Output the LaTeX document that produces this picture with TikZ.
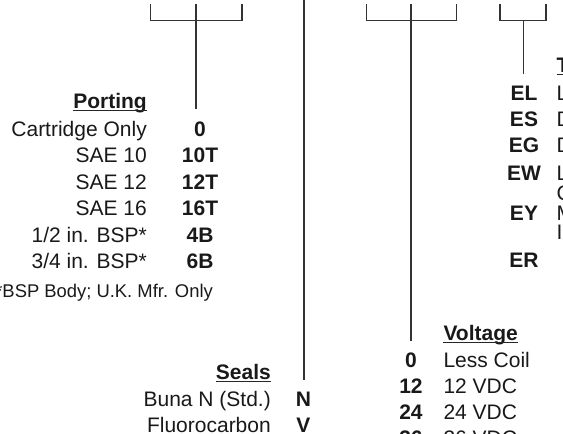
\documentclass[tikz,border=0pt]{standalone}
\usepackage{fontspec}
\setmainfont{Liberation Sans}
\usetikzlibrary{calc}
\begin{document}
\fontsize{21}{20}\selectfont
\begin{tikzpicture}
[x=1pt,y=-1pt,every node/.style={inner sep=0pt,anchor=base,text=black!90},
 code/.style={font=\bfseries}, head/.style={font=\bfseries},
 wire/.style={line width=1.3pt,black!80}, uline/.style={line width=1.4pt,black!85}]
\def \gap {12} % stem stops this far above the first code
\def \top {3.5}
\def \drop {17.2} % bracket height
\useasboundingbox (0,0) rectangle (563,434);
\clip (0,0) rectangle (563,434);

% porting
\node[head,anchor=base east] (hP) at (147,108.5) {Porting};
\foreach \lab/\cd [count=\i] in {Cartridge Only/0, SAE 10/10T, SAE 12/12T, SAE 16/16T,
  {1/2 in. BSP*}/4B, {3/4 in. BSP*}/6B}
{
  \node[anchor=base east] (pl\i) at (147,{136.3+26.5*(\i-1)}) {\lab};
  \node[code] (pc\i) at (200,{136.3+26.5*(\i-1)}) {\cd};
}
\node[anchor=base east,font=\fontsize{18.4}{20}\selectfont] (note) at (213,297.5) {*BSP Body; U.K. Mfr. Only};

% seals
\node[head,anchor=base east] (hS) at (271,379.2) {Seals};
\foreach \lab/\cd [count=\i] in {Buna N (Std.)/N, Fluorocarbon/V}
{
  \node[anchor=base east] (sl\i) at (271,{406.3+26*(\i-1)}) {\lab};
  \node[code] (sc\i) at (303.5,{406.3+26*(\i-1)}) {\cd};
}

% voltage
\node[head,anchor=base west] (hV) at (443.3,340.5) {Voltage};
\foreach \cd/\lab [count=\i] in {0/Less Coil, 12/12 VDC, 24/24 VDC, 36/36 VDC}
{
  \node[code] (vc\i) at (411,{367.8+26*(\i-1)}) {\cd};
  \node[anchor=base west] (vl\i) at (443.3,{367.8+26*(\i-1)}) {\lab};
}

% termination (cut off at the right edge)
\node[head,anchor=base west] (hT) at (556.5,72.5) {T};
\foreach \cd/\lab/\y [count=\i] in {EL/L/100.8, ES/D/126.3, EG/D/152.8, EW/L/180.8, EY/M/220.8, ER//267.8}
{
  \node[code] (tc\i) at (524,\y) {\cd};
  \node[anchor=base west] (tl\i) at (556.5,\y) {\lab};
}
\node[anchor=base west] (tw2) at (556.5,200.8) {C};
\node[anchor=base west] (ty2) at (556.5,239.8) {I};

\foreach \h in {hP,hS,hV,hT}
  \draw[uline] ([yshift=-2pt]\h.base west) -- ([yshift=-2pt]\h.base east);

% brackets
\coordinate (a1) at (150.7,\top); \coordinate (a2) at (242,\top); \coordinate (a0) at (196,\top);
\coordinate (b1) at (366.7,\top); \coordinate (b2) at (456.7,\top); \coordinate (b0) at (411,\top);
\coordinate (c1) at (500,\top); \coordinate (c2) at (546,\top); \coordinate (c0) at (523.3,\top+\drop);
\coordinate (s0) at (304,-2);
\draw[wire] (a1) -- ++(0,\drop) -| (a2);
\draw[wire] (b1) -- ++(0,\drop) -| (b2);
\draw[wire] (c1) -- ++(0,\drop) -| (c2);
\draw[wire] (a0) -- ($(a0 |- pc1.north)+(0,-\gap)$);
\draw[wire] (s0) -- ($(s0 |- sc1.north)+(0,-\gap)$);
\draw[wire] (b0) -- ($(b0 |- vc1.north)+(0,-\gap)$);
\draw[wire] (c0) -- ($(c0 |- tc1.north)+(0,-\gap)$);
\end{tikzpicture}
\end{document}
